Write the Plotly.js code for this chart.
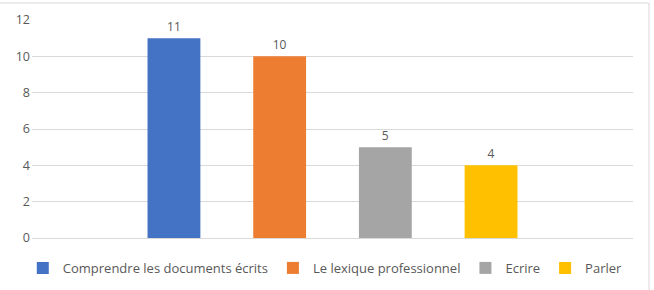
<!DOCTYPE html>
<html>
<head>
<meta charset="utf-8">
<script src="https://cdn.plot.ly/plotly-3.0.1.min.js"></script>
<style>html,body{margin:0;padding:0;background:#fff;}#chart{width:654px;height:290px;}</style>
</head>
<body>
<div id="chart"></div>
<script>
const categories = ['Total'];
const seriesNames = ['Comprendre les documents écrits', 'Le lexique professionnel', 'Ecrire', 'Parler'];
const seriesValues = [11, 10, 5, 4];
const seriesColors = ['#4472C4', '#ED7D31', '#A5A5A5', '#FFC000'];
const yTickValues = [0, 2, 4, 6, 8, 10, 12];

const font = 'Open Sans, Liberation Sans, sans-serif';
const traces = seriesNames.map((name, i) => ({
  type: 'bar',
  name: name,
  x: categories,
  y: [seriesValues[i]],
  text: [String(seriesValues[i])],
  textposition: 'outside',
  textfont: {family: font, size: 12, color: '#595959'},
  cliponaxis: false,
  marker: {color: seriesColors[i]},
  hoverinfo: 'skip'
}));

const layout = {
  width: 654, height: 290,
  margin: {l: 32, r: 21, t: 20, b: 52},
  paper_bgcolor: '#ffffff', plot_bgcolor: '#ffffff',
  font: {family: font, size: 12, color: '#595959'},
  barmode: 'group',
  bargap: 0.2965,
  bargroupgap: 0.5,
  showlegend: true,
  legend: {
    orientation: 'h', xref: 'paper', x: 0.488, xanchor: 'center',
    yref: 'container', y: 0.076, yanchor: 'middle',
    font: {family: font, size: 13, color: '#595959'},
    itemwidth: 30, traceorder: 'normal'
  },
  xaxis: {showticklabels: false, showgrid: false, zeroline: false, showline: false, ticks: ''},
  yaxis: {
    range: [0, 12], tickvals: yTickValues, ticktext: yTickValues.map(String),
    showgrid: true, gridcolor: '#D9D9D9', gridwidth: 1,
    zeroline: true, zerolinecolor: '#D9D9D9', zerolinewidth: 1,
    showline: false, ticks: '', ticklabelstandoff: 1,
    tickfont: {family: font, size: 12.5, color: '#595959'}
  },
  shapes: [
    {type: 'line', xref: 'paper', yref: 'paper', x0: -0.06, x1: 1.0266, y0: 1.078, y1: 1.078, line: {color: '#D9D9D9', width: 1}},
    {type: 'line', xref: 'paper', yref: 'paper', x0: 1.0266, x1: 1.0266, y0: 1.078, y1: -0.25, line: {color: '#D9D9D9', width: 1}}
  ]
};

Plotly.newPlot('chart', traces, layout, {displayModeBar: false, staticPlot: true});
</script>
</body>
</html>
